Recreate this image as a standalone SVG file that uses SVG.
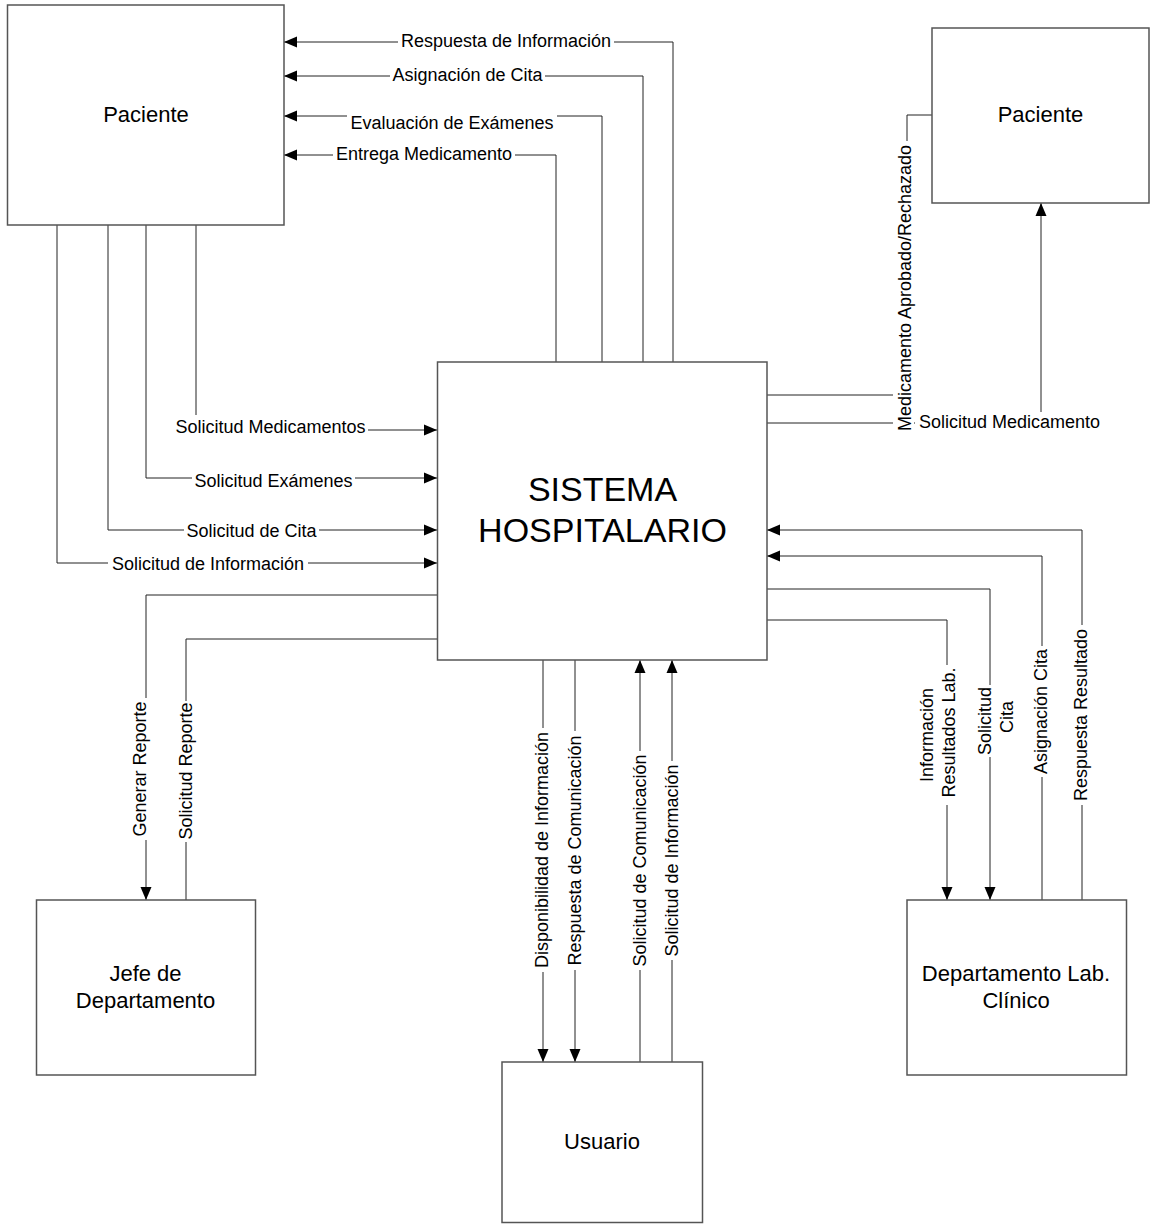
<svg xmlns="http://www.w3.org/2000/svg" width="1151" height="1226" viewBox="0 0 1151 1226">
<style>
.box{fill:#fff;stroke:#555;stroke-width:1.5}
.ln{fill:none;stroke:#222;stroke-width:1}
.arr{marker-end:url(#ah)}
.bg{fill:#fff;stroke:none}
.lbl{font-family:"Liberation Sans",Arial,sans-serif;font-size:18px;fill:#000}
.t{font-family:"Liberation Sans",Arial,sans-serif;font-size:22px;fill:#000;text-anchor:middle}
.big{font-family:"Liberation Sans",Arial,sans-serif;font-size:34px;fill:#000;text-anchor:middle}
.m{text-anchor:middle}
</style>
<defs>
<marker id="ah" markerUnits="userSpaceOnUse" markerWidth="13" markerHeight="12" refX="13" refY="6" orient="auto">
<path d="M0,0.5 L13,6 L0,11.5 z" fill="#000"/>
</marker>
</defs>
<rect width="1151" height="1226" fill="#fff"/>
<g id="connectors">
<path class="ln arr" d="M673,362 V42 H284"/>
<path class="ln arr" d="M643,362 V76 H284"/>
<path class="ln arr" d="M602,362 V116 H284"/>
<path class="ln arr" d="M556,362 V155 H284"/>
<path class="ln arr" d="M196,225 V430 H437"/>
<path class="ln arr" d="M146,225 V478 H437"/>
<path class="ln arr" d="M108,225 V530 H437"/>
<path class="ln arr" d="M57,225 V563 H437"/>
<path class="ln arr" d="M437,595 H146 V900"/>
<path class="ln" d="M186,900 V639 H437"/>
<path class="ln arr" d="M543,660 V1062"/>
<path class="ln arr" d="M575,660 V1062"/>
<path class="ln arr" d="M640,1062 V660"/>
<path class="ln arr" d="M672,1062 V660"/>
<path class="ln arr" d="M767,620 H947 V900"/>
<path class="ln arr" d="M767,589 H990 V900"/>
<path class="ln arr" d="M1042,900 V556 H767"/>
<path class="ln arr" d="M1082,900 V530 H767"/>
<path class="ln" d="M767,395 H907 V115 H932"/>
<path class="ln arr" d="M767,423 H1041 V203"/>

<rect class="bg" x="398" y="34" width="216" height="16"/>
<text class="lbl m" x="506" y="47">Respuesta de Información</text>
<rect class="bg" x="390" y="68" width="155" height="16"/>
<text class="lbl m" x="467.5" y="81">Asignación de Cita</text>
<rect class="bg" x="347" y="112" width="210" height="20"/>
<text class="lbl m" x="452" y="129">Evaluación de Exámenes</text>
<rect class="bg" x="333" y="146" width="182" height="18"/>
<text class="lbl m" x="424" y="160">Entrega Medicamento</text>

<rect class="bg" x="173" y="415" width="195" height="22"/>
<text class="lbl m" x="270.5" y="433">Solicitud Medicamentos</text>
<rect class="bg" x="192" y="470" width="163" height="20"/>
<text class="lbl m" x="273.5" y="487">Solicitud Exámenes</text>
<rect class="bg" x="184" y="522" width="135" height="19"/>
<text class="lbl m" x="251.5" y="537">Solicitud de Cita</text>
<rect class="bg" x="108" y="555" width="200" height="19"/>
<text class="lbl m" x="208" y="570">Solicitud de Información</text>

<rect class="bg" x="915" y="412" width="189" height="20"/>
<text class="lbl m" x="1009.5" y="428">Solicitud Medicamento</text>
<rect class="bg" x="893" y="141" width="21" height="294"/>
<text class="lbl m" transform="translate(911,288) rotate(-90)">Medicamento Aprobado/Rechazado</text>

<rect class="bg" x="131" y="698" width="18" height="142"/>
<text class="lbl m" transform="translate(146,769) rotate(-90)">Generar Reporte</text>
<rect class="bg" x="176" y="701" width="18" height="141"/>
<text class="lbl m" transform="translate(192,771) rotate(-90)">Solicitud Reporte</text>

<rect class="bg" x="533" y="728" width="18" height="244"/>
<text class="lbl m" transform="translate(548,850) rotate(-90)">Disponibilidad de Información</text>
<rect class="bg" x="566" y="731" width="18" height="239"/>
<text class="lbl m" transform="translate(581,850.5) rotate(-90)">Respuesta de Comunicación</text>
<rect class="bg" x="631" y="751" width="18" height="219"/>
<text class="lbl m" transform="translate(646,860.5) rotate(-90)">Solicitud de Comunicación</text>
<rect class="bg" x="663" y="761" width="18" height="199"/>
<text class="lbl m" transform="translate(678,860.5) rotate(-90)">Solicitud de Información</text>

<rect class="bg" x="938" y="665" width="19" height="140"/>
<text class="lbl m" transform="translate(933,735) rotate(-90)">Información</text>
<text class="lbl m" transform="translate(955,732.5) rotate(-90)">Resultados Lab.</text>
<rect class="bg" x="976" y="685" width="18" height="72"/>
<text class="lbl m" transform="translate(991,721) rotate(-90)">Solicitud</text>
<text class="lbl m" transform="translate(1013,717) rotate(-90)">Cita</text>
<rect class="bg" x="1032" y="646" width="18" height="131"/>
<text class="lbl m" transform="translate(1047,711.5) rotate(-90)">Asignación Cita</text>
<rect class="bg" x="1072" y="625" width="18" height="180"/>
<text class="lbl m" transform="translate(1087,715) rotate(-90)">Respuesta Resultado</text>
</g>
<g id="paciente1">
<rect class="box" x="7.5" y="5" width="276.5" height="220"/>
<text class="t" x="146" y="122">Paciente</text>
</g>
<g id="paciente2">
<rect class="box" x="932" y="28" width="217" height="175"/>
<text class="t" x="1040.5" y="122">Paciente</text>
</g>
<g id="sistema">
<rect class="box" x="437.5" y="362" width="329.5" height="298"/>
<text class="big" x="602.5" y="501">SISTEMA</text>
<text class="big" x="602.5" y="542">HOSPITALARIO</text>
</g>
<g id="jefe">
<rect class="box" x="36.5" y="900" width="219" height="175"/>
<text class="t" x="145.5" y="981">Jefe de</text>
<text class="t" x="145.5" y="1008">Departamento</text>
</g>
<g id="usuario">
<rect class="box" x="502" y="1062" width="200.5" height="160.5"/>
<text class="t" x="602" y="1149">Usuario</text>
</g>
<g id="departamento">
<rect class="box" x="907" y="900" width="219.5" height="175"/>
<text class="t" x="1016" y="981">Departamento Lab.</text>
<text class="t" x="1016" y="1008">Clínico</text>
</g>
</svg>
